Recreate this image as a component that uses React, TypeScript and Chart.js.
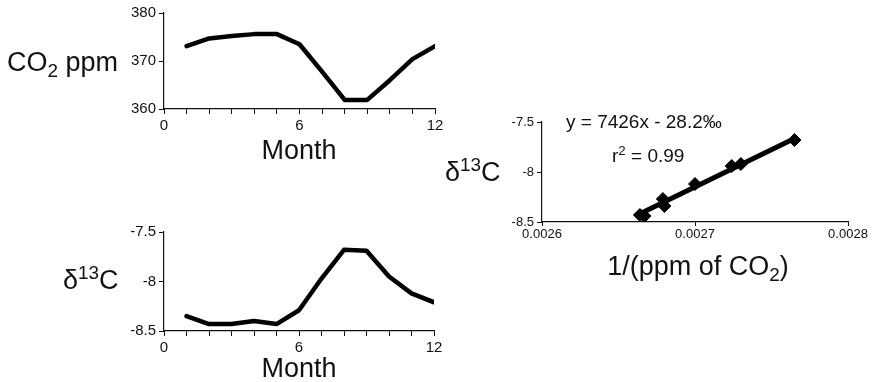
import React, { useEffect, useRef } from "react";
import { Chart, registerables } from "chart.js";

Chart.register(...registerables);

// ---- data ----
const months = [1, 2, 3, 4, 5, 6, 7, 8, 9, 10, 11, 12];
const co2Ppm = [373.1, 374.7, 375.2, 375.6, 375.6, 373.5, 367.8, 361.9, 361.9, 366.0, 370.4, 373.1];
const delta13C = [-8.35, -8.43, -8.43, -8.4, -8.43, -8.29, -7.97, -7.68, -7.69, -7.95, -8.12, -8.21];
const invCo2 = [0.002664, 0.002667, 0.002679, 0.00268, 0.0027, 0.002724, 0.00273, 0.002765];
const deltaScatter = [-8.43, -8.44, -8.27, -8.34, -8.12, -7.94, -7.92, -7.68];
const fitX = [0.002661, 0.002767];
const fitY = [-8.44, -7.65];
const monthTicks = [0, 6, 12];
const co2Ticks = [360, 370, 380];
const deltaTicks = [-8.5, -8, -7.5];
const invTicks = [0.0026, 0.0027, 0.0028];

const W = 875;
const H = 382;
const Y_W = 40;
const X_H = 30;
const FONT = "'Liberation Sans', Arial, Helvetica, sans-serif";
const INK = "#111";

function pad(left: number, top: number, right: number, bottom: number) {
  return { left: left - Y_W, top, right: W - right, bottom: H - bottom - X_H };
}

function axisBase(size: number, tickLength = 5, padding = 3) {
  return {
    grid: { display: true, drawOnChartArea: false, drawTicks: true, tickLength, color: INK, lineWidth: 1 },
    border: { display: true, color: INK, width: 1.2 },
    ticks: { color: INK, font: { family: FONT, size }, padding, autoSkip: false, maxRotation: 0 },
  };
}

function monthX() {
  const b = axisBase(15);
  return {
    type: "linear" as const,
    min: monthTicks[0],
    max: monthTicks[monthTicks.length - 1],
    ...b,
    ticks: {
      ...b.ticks,
      stepSize: 1,
      callback: (v: any) => (monthTicks.includes(Number(v)) ? String(v) : ""),
    },
    afterFit: (s: any) => { s.height = X_H; },
  };
}

function yScale(ticks: number[], size: number) {
  const b = axisBase(size);
  return {
    type: "linear" as const,
    min: ticks[0],
    max: ticks[ticks.length - 1],
    ...b,
    ticks: {
      ...b.ticks,
      stepSize: ticks[1] - ticks[0],
      callback: (v: any) => String(Math.round(Number(v) * 10) / 10),
    },
    afterFit: (s: any) => { s.width = Y_W; },
  };
}

function monthLine(values: number[], padding: any, ticks: number[]) {
  return {
    type: "line" as const,
    data: {
      datasets: [
        {
          data: months.map((m, i) => ({ x: m, y: values[i] })),
          borderColor: "#000",
          borderWidth: 4.5,
          pointRadius: 0,
          tension: 0,
          borderJoinStyle: "round" as const,
          borderCapStyle: "round" as const,
        },
      ],
    },
    options: {
      responsive: false,
      animation: false as const,
      layout: { padding },
      plugins: { legend: { display: false }, tooltip: { enabled: false } },
      scales: { x: monthX(), y: yScale(ticks, 15) },
    },
  };
}

const sub: React.CSSProperties = { fontSize: "0.7em", verticalAlign: "-0.3em", lineHeight: 0 };
const sup: React.CSSProperties = { fontSize: "0.7em", verticalAlign: "0.55em", lineHeight: 0 };

function Label(props: { left: number; top: number; size: number; center?: boolean; children: any }) {
  const { left, top, size, center, children } = props;
  return (
    <div
      style={{
        position: "absolute",
        left,
        top,
        fontSize: size,
        lineHeight: 1,
        whiteSpace: "nowrap",
        color: INK,
        fontFamily: FONT,
        transform: center ? "translateX(-50%)" : undefined,
      }}
    >
      {children}
    </div>
  );
}

export default function App() {
  const c1 = useRef<HTMLCanvasElement>(null);
  const c2 = useRef<HTMLCanvasElement>(null);
  const c3 = useRef<HTMLCanvasElement>(null);

  useEffect(() => {
    const charts: Chart[] = [];
    charts.push(new Chart(c1.current!, monthLine(co2Ppm, pad(164, 13, 435, 109), co2Ticks) as any));
    charts.push(new Chart(c2.current!, monthLine(delta13C, pad(164, 232, 434, 331), deltaTicks) as any));

    const bx = axisBase(13, 4, 1);
    charts.push(
      new Chart(c3.current!, {
        type: "scatter",
        data: {
          datasets: [
            {
              type: "line" as any,
              data: fitX.map((x, i) => ({ x, y: fitY[i] })),
              borderColor: "#000",
              borderWidth: 5,
              pointRadius: 0,
              tension: 0,
              order: 2,
            },
            {
              data: invCo2.map((x, i) => ({ x, y: deltaScatter[i] })),
              pointStyle: "rectRot",
              pointRadius: 6.5,
              backgroundColor: "#000",
              borderColor: "#000",
              order: 1,
            },
          ],
        },
        options: {
          responsive: false,
          animation: false,
          layout: { padding: pad(542, 122, 848, 222) },
          plugins: { legend: { display: false }, tooltip: { enabled: false } },
          scales: {
            x: {
              type: "linear",
              min: invTicks[0],
              max: invTicks[invTicks.length - 1],
              ...bx,
              ticks: {
                ...bx.ticks,
                stepSize: invTicks[1] - invTicks[0],
                callback: (v: any) => Number(v).toFixed(4),
              },
              afterFit: (s: any) => { s.height = X_H; },
            } as any,
            y: yScale(deltaTicks, 13) as any,
          },
        },
      })
    );
    return () => charts.forEach((c) => c.destroy());
  }, []);

  const cv: React.CSSProperties = { position: "absolute", left: 0, top: 0 };

  return (
    <div style={{ position: "absolute", left: 0, top: 0, width: W, height: H, background: "#fff", overflow: "hidden" }}>
      <canvas ref={c1} width={W} height={H} style={cv} />
      <canvas ref={c2} width={W} height={H} style={cv} />
      <canvas ref={c3} width={W} height={H} style={cv} />

      <Label left={7} top={49} size={27}>
        CO<span style={sub}>2</span> ppm
      </Label>
      <Label left={299} top={137} size={27} center>
        Month
      </Label>
      <Label left={63} top={267} size={27}>
        δ<span style={sup}>13</span>C
      </Label>
      <Label left={299} top={355} size={27} center>
        Month
      </Label>
      <Label left={445} top={159} size={27}>
        δ<span style={sup}>13</span>C
      </Label>
      <Label left={698} top={253} size={27} center>
        1/(ppm of CO<span style={sub}>2</span>)
      </Label>
      <Label left={566} top={112} size={19}>
        y = 7426x - 28.2‰
      </Label>
      <Label left={612} top={146} size={19}>
        r<span style={sup}>2</span> = 0.99
      </Label>
    </div>
  );
}
